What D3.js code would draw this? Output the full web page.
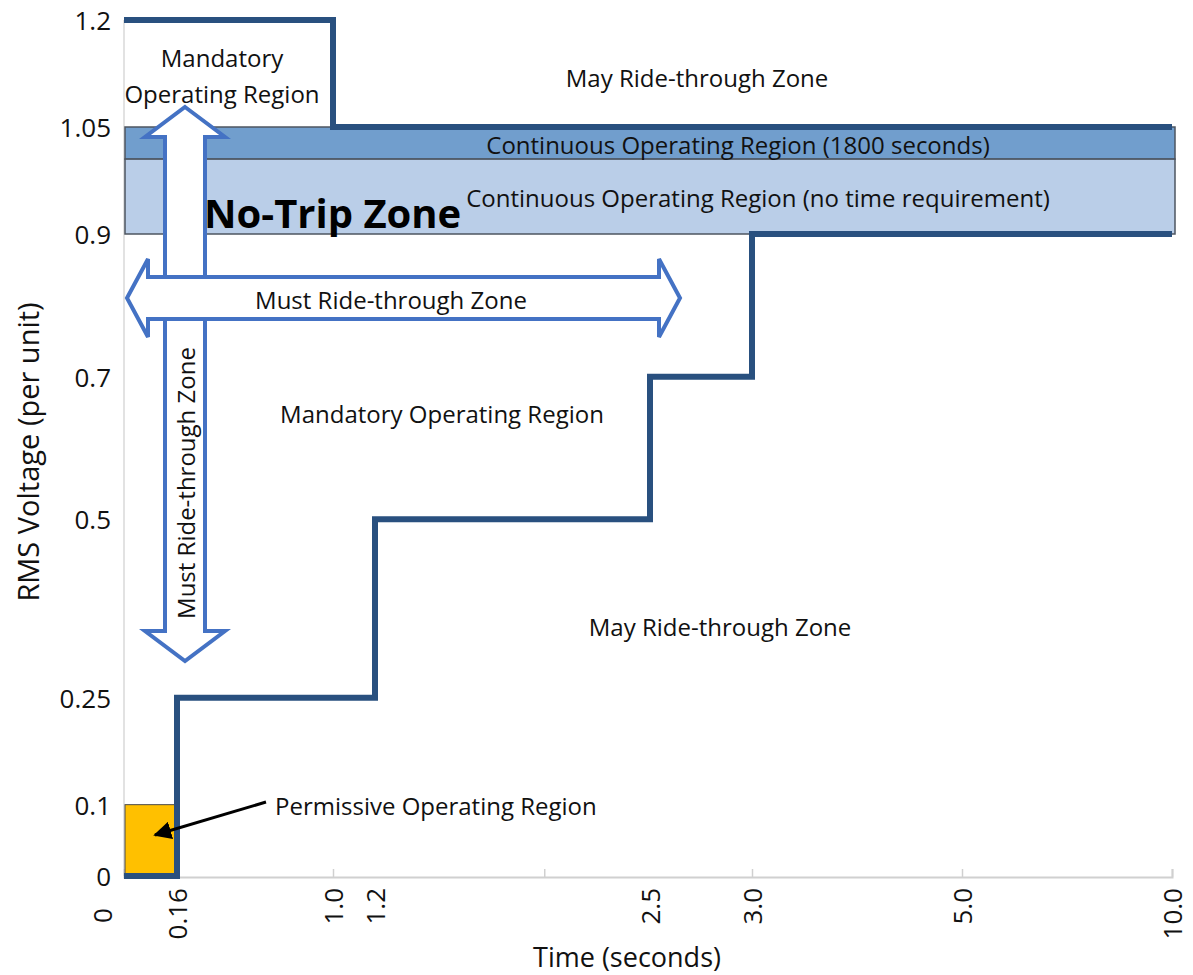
<!DOCTYPE html>
<html>
<head>
<meta charset="utf-8">
<script src="https://cdn.jsdelivr.net/npm/d3@7"></script>
<style>
  body { margin: 0; background: #fff; }
  text { font-family: "Open Sans", sans-serif; fill: #111; }
</style>
</head>
<body>
<script>
// axis ticks and labels
const xTickVals = [0, 0.16, 1.0, 1.2, 2.5, 3.0, 5.0, 10.0];
const xTickLabels = ["0", "0.16", "1.0", "1.2", "2.5", "3.0", "5.0", "10.0"];
const xMarkVals = [1, 2, 3, 5, 10];
const yTickVals = [0, 0.1, 0.25, 0.5, 0.7, 0.9, 1.05, 1.2];
const yTickLabels = ["0", "0.1", "0.25", "0.5", "0.7", "0.9", "1.05", "1.2"];

// ride-through boundaries (time s, voltage pu)
const lowerTimes = [0, 0.16, 1.2, 2.5, 3.0, 10.0];
const lowerVolts = [0, 0.25, 0.5, 0.7, 0.9, 0.9];
const upperTimes = [0, 1.0, 10.0];
const upperVolts = [1.2, 1.05, 1.05];

// continuous operating bands
const bandLows = [1.005, 0.9];
const bandHighs = [1.05, 1.005];
const bandLabels = ["Continuous Operating Region (1800 seconds)",
                    "Continuous Operating Region (no time requirement)"];

// permissive region corner
const permTime = 0.16;
const permVolt = 0.1;

const W = 1193, H = 975;
const svg = d3.select("body").append("svg")
  .attr("width", W).attr("height", H);

const x = d3.scaleLinear()
  .domain(xTickVals)
  .range([124, 177, 333, 375, 650, 752, 962, 1172]);
const y = d3.scaleLinear().domain([0, 1.2]).range([876, 20]);

// axes
svg.append("line")
  .attr("x1", x(0)).attr("x2", x(0))
  .attr("y1", y(1.2)).attr("y2", y(0))
  .attr("stroke", "#d9d9d9").attr("stroke-width", 1.5);

const xAxis = svg.append("g")
  .attr("transform", `translate(0,${y(0) + 1})`)
  .call(d3.axisBottom(x).tickValues(xMarkVals).tickSize(-8).tickFormat(""));
xAxis.select(".domain").attr("stroke", "#d0d0d0").attr("stroke-width", 2);
xAxis.selectAll(".tick line").attr("stroke", "#d0d0d0").attr("stroke-width", 1.5);

svg.append("g").selectAll("text")
  .data(xTickVals)
  .enter().append("text")
  .attr("transform", (d, i) => i === 0
    ? `translate(${x(d) - 22},908) rotate(-90)`
    : `translate(${x(d)},888) rotate(-90)`)
  .attr("text-anchor", "end")
  .attr("dominant-baseline", "central")
  .style("font-size", "26px")
  .text((d, i) => xTickLabels[i]);

svg.append("g").selectAll("text")
  .data(yTickVals)
  .enter().append("text")
  .attr("x", 111)
  .attr("y", (d) => y(d))
  .attr("text-anchor", "end")
  .attr("dominant-baseline", "central")
  .style("font-size", "26px")
  .text((d, i) => yTickLabels[i]);

svg.append("text")
  .attr("transform", "translate(27,452) rotate(-90)")
  .attr("text-anchor", "middle")
  .attr("dominant-baseline", "central")
  .style("font-size", "29px")
  .text("RMS Voltage (per unit)");

svg.append("text")
  .attr("x", 627).attr("y", 956)
  .attr("text-anchor", "middle")
  .attr("dominant-baseline", "central")
  .style("font-size", "27px")
  .text("Time (seconds)");

// bands
const bandColors = ["#719ecd", "#bacee8"];
svg.append("g").selectAll("rect")
  .data(bandLows)
  .enter().append("rect")
  .attr("x", x(0) + 1)
  .attr("width", x(10) - x(0) + 2)
  .attr("y", (d, i) => y(bandHighs[i]))
  .attr("height", (d, i) => y(d) - y(bandHighs[i]))
  .attr("fill", (d, i) => bandColors[i])
  .attr("stroke", "#4d5560")
  .attr("stroke-width", 1.5);

// permissive region
svg.append("rect")
  .attr("x", x(0) + 1).attr("y", y(permVolt))
  .attr("width", x(permTime) - x(0) - 1)
  .attr("height", y(0) - y(permVolt))
  .attr("fill", "#ffc000")
  .attr("stroke", "#4a4a4a")
  .attr("stroke-width", 1);

// boundary curves
const step = d3.line()
  .x((d) => x(d[0]))
  .y((d) => y(d[1]))
  .curve(d3.curveStepAfter);

svg.append("path")
  .attr("d", step(d3.zip(lowerTimes, lowerVolts)))
  .attr("fill", "none")
  .attr("stroke", "#29507f")
  .attr("stroke-width", 6)
  .attr("stroke-linejoin", "miter");

svg.append("path")
  .attr("d", step(d3.zip(upperTimes, upperVolts)))
  .attr("fill", "none")
  .attr("stroke", "#29507f")
  .attr("stroke-width", 6);

// double block arrows
const vArrow = (cx, y1, y2, sw, hw, hl) => {
  const p = d3.path();
  p.moveTo(cx, y1);
  p.lineTo(cx + hw, y1 + hl);
  p.lineTo(cx + sw, y1 + hl);
  p.lineTo(cx + sw, y2 - hl);
  p.lineTo(cx + hw, y2 - hl);
  p.lineTo(cx, y2);
  p.lineTo(cx - hw, y2 - hl);
  p.lineTo(cx - sw, y2 - hl);
  p.lineTo(cx - sw, y1 + hl);
  p.lineTo(cx - hw, y1 + hl);
  p.closePath();
  return p.toString();
};
const hArrow = (cy, x1, x2, sw, hw, hl) => {
  const p = d3.path();
  p.moveTo(x1, cy);
  p.lineTo(x1 + hl, cy - hw);
  p.lineTo(x1 + hl, cy - sw);
  p.lineTo(x2 - hl, cy - sw);
  p.lineTo(x2 - hl, cy - hw);
  p.lineTo(x2, cy);
  p.lineTo(x2 - hl, cy + hw);
  p.lineTo(x2 - hl, cy + sw);
  p.lineTo(x1 + hl, cy + sw);
  p.lineTo(x1 + hl, cy + hw);
  p.closePath();
  return p.toString();
};

svg.append("path")
  .attr("d", vArrow(185, 107, 661, 20, 40, 30))
  .attr("fill", "#fff")
  .attr("stroke", "#4472c4")
  .attr("stroke-width", 4);

svg.append("path")
  .attr("d", hArrow(298, 127, 680, 21, 39, 21))
  .attr("fill", "#fff")
  .attr("stroke", "#4472c4")
  .attr("stroke-width", 4);

// labels
const label = (tx, ty, txt, size = 24, anchor = "middle") =>
  svg.append("text")
    .attr("x", tx).attr("y", ty)
    .attr("text-anchor", anchor)
    .attr("dominant-baseline", "central")
    .style("font-size", size + "px")
    .text(txt);

label(222, 57, "Mandatory");
label(222, 93, "Operating Region");
label(697, 77, "May Ride-through Zone");
label(738, 144, bandLabels[0]);
label(758, 197, bandLabels[1]);
label(391, 299, "Must Ride-through Zone");
label(442, 413, "Mandatory Operating Region");
label(720, 626, "May Ride-through Zone");
label(275, 805, "Permissive Operating Region", 24, "start");

svg.append("text")
  .attr("transform", "translate(185,483) rotate(-90)")
  .attr("text-anchor", "middle")
  .attr("dominant-baseline", "central")
  .style("font-size", "24px")
  .text("Must Ride-through Zone");

svg.append("text")
  .attr("x", 204).attr("y", 212)
  .attr("dominant-baseline", "central")
  .style("font-size", "40px")
  .style("font-weight", "bold")
  .style("fill", "#000")
  .text("No-Trip Zone");

// pointer to permissive region
svg.append("defs").append("marker")
  .attr("id", "head")
  .attr("viewBox", "0 0 10 10")
  .attr("refX", 9).attr("refY", 5)
  .attr("markerWidth", 6).attr("markerHeight", 6)
  .attr("orient", "auto")
  .append("path")
  .attr("d", "M0,0L10,5L0,10z")
  .attr("fill", "#000");

svg.append("line")
  .attr("x1", 266).attr("y1", 802)
  .attr("x2", 155).attr("y2", 835)
  .attr("stroke", "#000")
  .attr("stroke-width", 3)
  .attr("marker-end", "url(#head)");
</script>
</body>
</html>
